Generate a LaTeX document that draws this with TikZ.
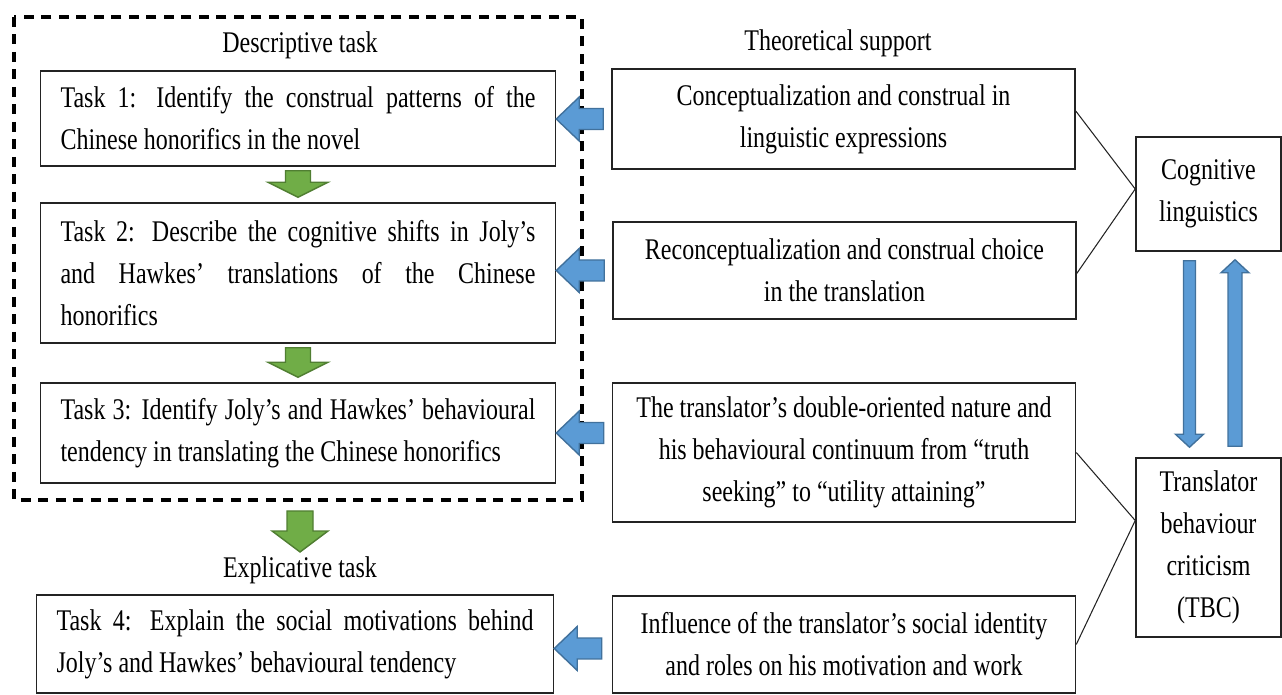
\documentclass[tikz,border=0pt]{standalone}
\usepackage{fontspec}
\setmainfont{Liberation Serif}[FakeStretch=0.8]
\usetikzlibrary{positioning,calc}
\definecolor{flowblue}{RGB}{91,155,213}
\definecolor{flowblueline}{RGB}{65,113,156}
\definecolor{flowgreen}{RGB}{112,173,71}
\definecolor{flowgreenline}{RGB}{80,126,50}
\definecolor{boxline}{RGB}{35,35,35}

% block arrow: style, tail, tip, half shaft, half head, head length
\newcommand{\blockarrow}[6]{%
  \coordinate (ba-neck) at ($(#3)!#6!(#2)$);
  \filldraw[#1] ($(#2)!#4!90:(#3)$) -- ($(ba-neck)!#4!90:(#3)$)
    -- ($(ba-neck)!#5!90:(#3)$) -- (#3) -- ($(ba-neck)!#5!-90:(#3)$)
    -- ($(ba-neck)!#4!-90:(#3)$) -- ($(#2)!#4!-90:(#3)$) -- cycle;
}

\begin{document}
\begin{tikzpicture}[x=0.02cm, y=-0.02cm,
    font=\fontsize{17.07}{23.9}\selectfont,
    taskbox/.style={draw=boxline, line width=0.9pt, text width=9.5cm, align=justify, inner xsep=0.4cm, inner ysep=0pt},
    supportbox/.style={draw=boxline, line width=0.9pt, minimum width=9.26cm, align=center, inner sep=0pt},
    theorybox/.style={draw=boxline, line width=0.9pt, minimum width=2.9cm, align=center, inner sep=0pt},
    blueflow/.style={fill=flowblue, draw=flowblueline, line width=0.8pt},
    greenflow/.style={fill=flowgreen, draw=flowgreenline, line width=0.8pt},
    dashframe/.style={draw=black, line width=2pt, dash pattern=on 0.2cm off 0.15cm}]

    \useasboundingbox (0,0) rectangle (1282,695);

    % ═══════════════════════════════════════════════════════════════════════════
    % DESCRIPTIVE TASK
    % ═══════════════════════════════════════════════════════════════════════════

    \coordinate (fr-nw) at (14,17);
    \coordinate (fr-se) at (582,500);
    \draw[dashframe] (fr-nw) rectangle (fr-se);
    \node (desc) at (300,45) {Descriptive task};

    \node[taskbox, minimum height=1.9cm] (task1) at (298,118.5) {Task 1: Identify the construal patterns of the\linebreak Chinese honorifics in the novel};
    \node[taskbox, minimum height=2.8cm] (task2) at (298,273) {Task 2: Describe the cognitive shifts in Joly's\linebreak and Hawkes' translations of the Chinese\linebreak honorifics};
    \node[taskbox, minimum height=2.0cm] (task3) at (298,433) {Task 3: Identify Joly's and Hawkes' behavioural\linebreak tendency in translating the Chinese honorifics};

    % ═══════════════════════════════════════════════════════════════════════════
    % EXPLICATIVE TASK
    % ═══════════════════════════════════════════════════════════════════════════

    \node (expl) at (300,570) {Explicative task};
    \node[taskbox, minimum height=1.96cm, text width=9.54cm] (task4) at (295,644) {Task 4: Explain the social motivations behind\linebreak Joly's and Hawkes' behavioural tendency};

    % ═══════════════════════════════════════════════════════════════════════════
    % THEORETICAL SUPPORT
    % ═══════════════════════════════════════════════════════════════════════════

    \node (theo) at (838,43) {Theoretical support};
    \node[supportbox, minimum height=2.0cm] (boxa) at (843.5,119) {Conceptualization and construal in\\linguistic expressions};
    \node[supportbox, minimum height=1.94cm] (boxb) at (844.5,270.5) {Reconceptualization and construal choice\\in the translation};
    \node[supportbox, minimum height=2.78cm] (boxc) at (844,452.5) {The translator's double-oriented nature and\\his behavioural continuum from ``truth\\seeking'' to ``utility attaining''};
    \node[supportbox, minimum height=1.94cm] (boxd) at (844,644.5) {Influence of the translator's social identity\\and roles on his motivation and work};

    % ═══════════════════════════════════════════════════════════════════════════
    % THEORIES
    % ═══════════════════════════════════════════════════════════════════════════

    \node[theorybox, minimum height=2.28cm] (cog) at (1208.5,194) {Cognitive\\linguistics};
    \node[theorybox, minimum height=3.58cm] (tbc) at (1208.5,547.5) {Translator\\behaviour\\criticism\\(TBC)};

    \coordinate (cogin) at ($(cog.west)+(0,-5)$);
    \coordinate (tbcin) at ($(tbc.west)+(0,-27)$);
    \draw[boxline, line width=0.6pt] ($(boxa.east)+(0,-8)$) -- (cogin) -- ($(boxb.east)+(0,3)$);
    \draw[boxline, line width=0.6pt] (boxc.east) -- (tbcin) -- (boxd.east);

    % ═══════════════════════════════════════════════════════════════════════════
    % ARROWS
    % ═══════════════════════════════════════════════════════════════════════════

    % green: task to task
    \coordinate (g1s) at ($(task1.south)+(0,4)$);
    \coordinate (g1e) at ($(task2.north)+(0,-5)$);
    \blockarrow{greenflow}{g1s}{g1e}{0.25cm}{0.6cm}{0.3cm}
    \coordinate (g2s) at ($(task2.south)+(0,4)$);
    \coordinate (g2e) at ($(task3.north)+(0,-5)$);
    \blockarrow{greenflow}{g2s}{g2e}{0.25cm}{0.6cm}{0.3cm}
    \coordinate (g3s) at ($(expl.north |- fr-se)+(0,11)$);
    \coordinate (g3e) at ($(g3s)+(0,41)$);
    \blockarrow{greenflow}{g3s}{g3e}{0.26cm}{0.56cm}{0.42cm}

    % blue: support to task
    \coordinate (b1s) at ($(boxa.west)+(-8,0)$);
    \coordinate (b1e) at (task1.east |- b1s);
    \blockarrow{blueflow}{b1s}{b1e}{0.21cm}{0.44cm}{0.46cm}
    \coordinate (b2s) at ($(boxb.west)+(-8,0)$);
    \coordinate (b2e) at (task2.east |- b2s);
    \blockarrow{blueflow}{b2s}{b2e}{0.21cm}{0.44cm}{0.46cm}
    \coordinate (b3e) at (task3.east);
    \coordinate (b3s) at ($(boxc.west |- b3e)+(-8,0)$);
    \blockarrow{blueflow}{b3s}{b3e}{0.21cm}{0.44cm}{0.46cm}
    \coordinate (b4s) at ($(boxd.west)+(-10,4)$);
    \coordinate (b4e) at (task4.east |- b4s);
    \blockarrow{blueflow}{b4s}{b4e}{0.21cm}{0.44cm}{0.46cm}

    % blue: between theories
    \coordinate (dn-s) at ($(cog.south)+(-19,9)$);
    \coordinate (dn-e) at ($(dn-s |- tbc.north)+(0,-10)$);
    \blockarrow{blueflow}{dn-s}{dn-e}{0.12cm}{0.28cm}{0.26cm}
    \coordinate (up-s) at ($(tbc.north)+(26.5,-11)$);
    \coordinate (up-e) at ($(up-s |- cog.south)+(0,8)$);
    \blockarrow{blueflow}{up-s}{up-e}{0.14cm}{0.28cm}{0.26cm}

\end{tikzpicture}
\end{document}
